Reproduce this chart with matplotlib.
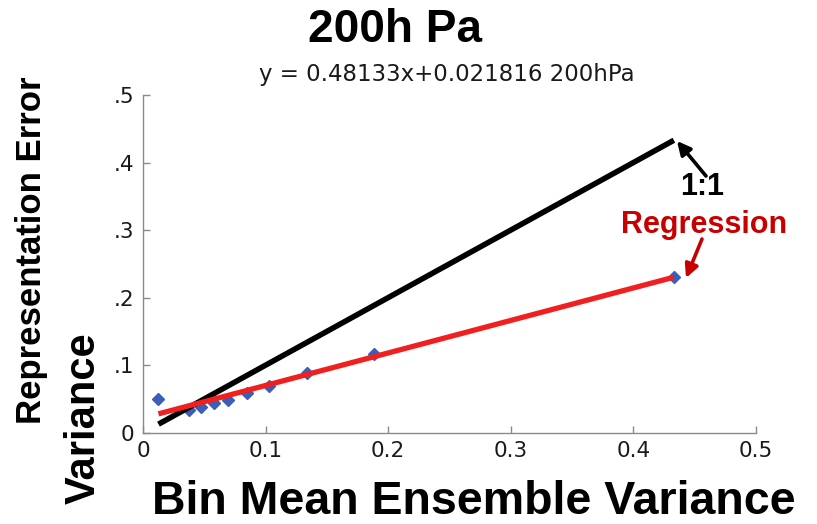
import matplotlib
matplotlib.use("Agg")
import matplotlib.pyplot as plt
import numpy as np

# Data
bin_mean_var = [0.0126, 0.0378, 0.047, 0.058, 0.069, 0.0847, 0.103, 0.1335, 0.1886, 0.433]
rep_err_var = [0.050, 0.034, 0.0385, 0.0435, 0.049, 0.059, 0.069, 0.088, 0.1166, 0.2305]
slope = 0.48133
intercept = 0.021816
x_ticks = [0, 0.1, 0.2, 0.3, 0.4, 0.5]
x_ticklabels = ["0", "0.1", "0.2", "0.3", "0.4", "0.5"]
y_ticks = [0, 0.1, 0.2, 0.3, 0.4, 0.5]
y_ticklabels = ["0", ".1", ".2", ".3", ".4", ".5"]

W, H = 817, 524
fig = plt.figure(figsize=(W / 100, H / 100), dpi=100)
ax = fig.add_axes([143 / W, 1 - 432.7 / H, (756 - 143) / W, (432.7 - 95) / H])

x = np.array(bin_mean_var)
y = np.array(rep_err_var)
xr = np.array([x.min(), x.max()])

ax.plot(x, y, linestyle="none", marker="D", markersize=6, color="#3a5fb8", zorder=2)
ax.plot(xr, xr, color="black", lw=4.0, solid_capstyle="butt", zorder=3)
ax.plot(xr, slope * xr + intercept, color="#f02020", lw=3.8, solid_capstyle="butt", zorder=4)

ax.set_xlim(0, 0.5)
ax.set_ylim(0, 0.5)
ax.set_xticks(x_ticks)
ax.set_xticklabels(x_ticklabels)
ax.set_yticks(y_ticks)
ax.set_yticklabels(y_ticklabels)
for s in ["top", "right"]:
    ax.spines[s].set_visible(False)
for s in ["left", "bottom"]:
    ax.spines[s].set_color("#8a8a8a")
    ax.spines[s].set_linewidth(1.0)
ax.tick_params(direction="in", length=5, width=1.0, color="#8a8a8a",
               labelsize=15.5, labelcolor="#1a1a1a", pad=6)
for lab in ax.get_xticklabels() + ax.get_yticklabels():
    lab.set_family("DejaVu Sans")

bold = dict(family="Liberation Sans", weight="bold")
fig.text(395 / W, 1 - 30 / H, "200h Pa", ha="center", va="center", fontsize=33, **bold)
fig.text(447 / W, 1 - 74 / H, "y = 0.48133x+0.021816 200hPa", ha="center", va="center",
         fontsize=16.5, family="DejaVu Sans", color="#1a1a1a")
fig.text(474 / W, 1 - 502 / H, "Bin Mean Ensemble Variance", ha="center", va="center",
         fontsize=33.5, **bold)
fig.text(32 / W, 1 - 250 / H, "Representation Error", ha="center", va="center",
         rotation=90, fontsize=25, **bold)
fig.text(84 / W, 1 - 418 / H, "Variance", ha="center", va="center",
         rotation=90, fontsize=30, **bold)

# annotation texts
fig.text(702 / W, 1 - 187 / H, "1:1", ha="center", va="center", fontsize=22,
         color="black", **bold)
fig.text(704 / W, 1 - 225 / H, "Regression", ha="center", va="center", fontsize=22,
         color="#c80000", **bold)
# arrows
fig.add_artist(matplotlib.patches.FancyArrowPatch(
    (706 / W, 1 - 176 / H), (677 / W, 1 - 141 / H), transform=fig.transFigure,
    arrowstyle="-|>", mutation_scale=20, lw=2.6, color="black", shrinkA=0, shrinkB=0))
fig.add_artist(matplotlib.patches.FancyArrowPatch(
    (702 / W, 1 - 239 / H), (686 / W, 1 - 278 / H), transform=fig.transFigure,
    arrowstyle="-|>", mutation_scale=20, lw=2.6, color="#c80000", shrinkA=0, shrinkB=0))

fig.savefig("out.png", dpi=100)
